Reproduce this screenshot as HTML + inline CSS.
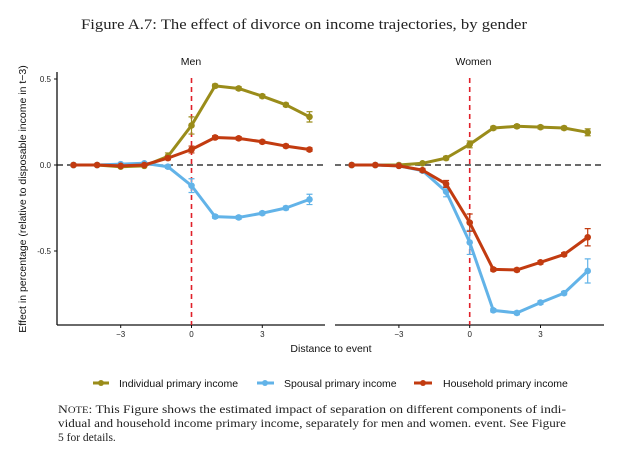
<!DOCTYPE html>
<html><head><meta charset="utf-8"><style>
body{margin:0;background:#fff;width:635px;height:467px;overflow:hidden}
svg{display:block}
.s{font-family:"Liberation Sans",sans-serif}
.r{font-family:"Liberation Serif",serif}
</style></head><body>
<svg id="c" width="635" height="467" viewBox="0 0 635 467">
<text class="r" x="81" y="29" font-size="14.5" textLength="446" lengthAdjust="spacingAndGlyphs" fill="#222">Figure A.7: The effect of divorce on income trajectories, by gender</text>
<text class="s" transform="translate(26,199) rotate(-90)" font-size="10.5" text-anchor="middle" fill="#111">Effect in percentage (relative to disposable income in t−3)</text>
<text class="s" x="331" y="352" font-size="10.5" text-anchor="middle" fill="#111">Distance to event</text>
<g id="legend">
<g><line x1="93" y1="383" x2="109" y2="383" stroke="#9a8c1a" stroke-width="3"/><circle cx="101" cy="383" r="3" fill="#9a8c1a"/><text class="s" x="119" y="387" font-size="10.5" fill="#111">Individual primary income</text></g>
<g><line x1="257" y1="383" x2="274" y2="383" stroke="#62b3e8" stroke-width="3"/><circle cx="265" cy="383" r="3" fill="#62b3e8"/><text class="s" x="284" y="387" font-size="10.5" fill="#111">Spousal primary income</text></g>
<g><line x1="414" y1="383" x2="432" y2="383" stroke="#c23b10" stroke-width="3"/><circle cx="423" cy="383" r="3" fill="#c23b10"/><text class="s" x="443" y="387" font-size="10.5" fill="#111">Household primary income</text></g>
</g>
<g class="r" font-size="11.5" fill="#222">
<text x="58" y="413" textLength="508" lengthAdjust="spacingAndGlyphs"><tspan>N</tspan><tspan font-size="9">OTE</tspan>: This Figure shows the estimated impact of separation on different components of indi-</text>
<text x="58" y="427" textLength="508" lengthAdjust="spacingAndGlyphs">vidual and household income primary income, separately for men and women. event. See Figure</text>
<text x="58" y="441">5 for details.</text>
</g>
</svg>
<script>
const xValues=[-5,-4,-3,-2,-1,0,1,2,3,4,5];
const xTicks=[-3,0,3];
const yTicks=[0.5,0,-0.5];
const yTickLabels=["0.5","0.0","-0.5"];
const panelNames=["Men","Women"];
const menIndividual=[0,0,-0.01,-0.005,0.05,0.23,0.46,0.445,0.4,0.35,0.28];
const menSpousal=[0,0,0.005,0.01,-0.01,-0.12,-0.3,-0.305,-0.28,-0.25,-0.2];
const menHousehold=[0,0,-0.005,0,0.04,0.09,0.16,0.155,0.135,0.11,0.09];
const menIndividualErr=[0,0,0.005,0.005,0.02,0.05,0.01,0.01,0.01,0.01,0.03];
const menSpousalErr=[0,0,0.005,0.005,0.01,0.04,0.01,0.01,0.01,0.01,0.03];
const menHouseholdErr=[0,0,0.005,0.005,0.01,0.02,0.01,0.01,0.01,0.01,0.01];
const womenIndividual=[0,0,0,0.01,0.04,0.12,0.215,0.225,0.22,0.215,0.19];
const womenSpousal=[0,0,-0.005,-0.033,-0.155,-0.45,-0.845,-0.86,-0.8,-0.745,-0.616];
const womenHousehold=[0,0,-0.005,-0.03,-0.11,-0.335,-0.607,-0.61,-0.566,-0.52,-0.42];
const womenIndividualErr=[0,0,0.005,0.005,0.01,0.02,0.01,0.01,0.01,0.01,0.02];
const womenSpousalErr=[0,0,0.005,0.01,0.03,0.07,0.01,0.01,0.01,0.01,0.07];
const womenHouseholdErr=[0,0,0.005,0.01,0.02,0.05,0.01,0.01,0.01,0.01,0.05];
const NS='http://www.w3.org/2000/svg';
const svg=document.getElementById('c');
function mk(t,a,p){const e=document.createElementNS(NS,t);for(const k in a)e.setAttribute(k,a[k]);(p||svg).appendChild(e);return e;}
const panels=[{x0:57,x1:325,zero:191.5,series:[[menIndividual,menIndividualErr,'#9a8c1a','individual'],[menSpousal,menSpousalErr,'#62b3e8','spousal'],[menHousehold,menHouseholdErr,'#c23b10','household']]},
{x0:335,x1:604,zero:469.7,series:[[womenIndividual,womenIndividualErr,'#9a8c1a','individual'],[womenSpousal,womenSpousalErr,'#62b3e8','spousal'],[womenHousehold,womenHouseholdErr,'#c23b10','household']]}];
const yS=v=>165-v*172;
panels.forEach((p,pi)=>{
 const xS=v=>p.zero+v*23.6;
 const g=mk('g',{});
 
 
 const t=mk('text',{x:(p.x0+p.x1)/2+(pi?4:0),y:65,'font-size':10.5,'text-anchor':'middle',fill:'#111','font-family':'Liberation Sans, sans-serif'},g);t.textContent=panelNames[pi];
 
 
 const ax=mk('line',{x1:p.x0,y1:325,x2:p.x1,y2:325,stroke:'#111','stroke-width':1.3},g);
 
 
 xTicks.forEach(v=>{mk('line',{x1:xS(v),y1:325,x2:xS(v),y2:328,stroke:'#111'},g);const tt=mk('text',{x:xS(v),y:337,'font-size':8,'text-anchor':'middle',fill:'#222','font-family':'Liberation Sans, sans-serif'},g);tt.textContent=v==-3?'−3':v;
 
 });
 if(pi==0){const ya=mk('line',{x1:57,y1:72,x2:57,y2:325,stroke:'#111','stroke-width':1.3},g);
 
 
 yTicks.forEach((v,i)=>{mk('line',{x1:54,y1:yS(v),x2:57,y2:yS(v),stroke:'#111'},g);const tt=mk('text',{x:51,y:yS(v)+3,'font-size':8,'text-anchor':'end',fill:'#222','font-family':'Liberation Sans, sans-serif'},g);tt.textContent=yTickLabels[i];
 
 });}
 const hz=mk('line',{x1:p.x0,y1:yS(0),x2:p.x1,y2:yS(0),stroke:'#111','stroke-width':1.3,'stroke-dasharray':'6,4'},g);
 
 
 const vl=mk('line',{x1:xS(0),y1:78,x2:xS(0),y2:325,stroke:'#e0202a','stroke-width':1.6,'stroke-dasharray':'5,4'},g);
 
 
 p.series.forEach(([vals,errs,col,nm])=>{
  const sg=mk('g',{},g);
  
  
  const pl=mk('polyline',{points:vals.map((v,i)=>xS(xValues[i])+','+yS(v)).join(' '),fill:'none',stroke:col,'stroke-width':3,'stroke-linejoin':'round'},sg);
  
  
  vals.forEach((v,i)=>{const x=xS(xValues[i]);const e=errs[i];
   if(e>0.008){mk('path',{d:`M${x},${yS(v+e)}V${yS(v-e)}M${x-3},${yS(v+e)}h6M${x-3},${yS(v-e)}h6`,stroke:col,'stroke-width':1.2,fill:'none'},sg);}
   const c=mk('circle',{cx:x,cy:yS(v),r:3.3,fill:col},sg);
   
   });
 });
});
</script>
</body></html>
